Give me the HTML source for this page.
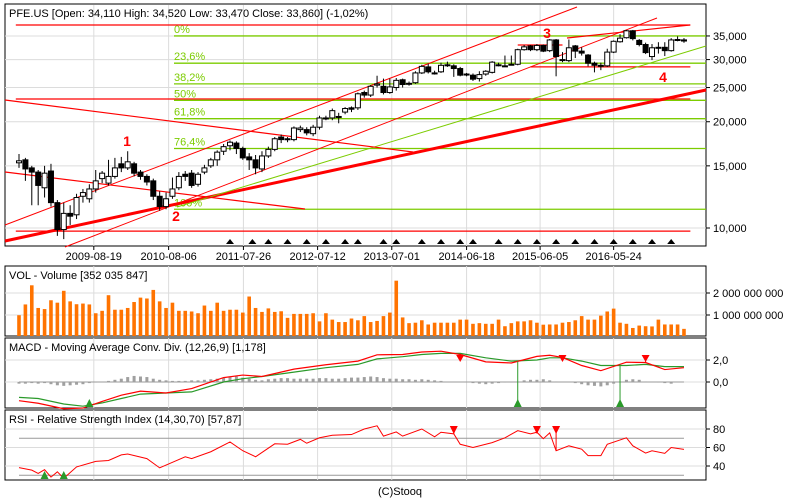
<!DOCTYPE html>
<html><head><meta charset="utf-8"><style>
html,body{margin:0;padding:0;background:#fff}
svg{display:block;font-family:"Liberation Sans",sans-serif}
</style></head><body>
<svg id="chart" width="800" height="500" viewBox="0 0 800 500" xmlns="http://www.w3.org/2000/svg">
<rect x="0" y="0" width="800" height="500" fill="#fff"/>
<g id="grid"></g>
<g id="overlays"></g>
<g id="marks"></g>
<g id="lower"></g>
<g id="labels"></g>
</svg>
<script>
const dateLabels=["2009-08-19","2010-08-06","2011-07-26","2012-07-12","2013-07-01","2014-06-18","2015-06-05","2016-05-24"];
const dateIdx=[11.7,23.4,35.1,46.7,58.3,70.0,81.5,93.0];
const priceTicks=[10,15,20,25,30,35];
const priceTickLabels=["10,000","15,000","20,000","25,000","30,000","35,000"];
const opens=[15.3,15.6,14.8,14.4,13.0,14.5,11.8,9.9,11.0,10.9,12.3,12.1,12.9,13.8,13.4,14.0,15.2,14.8,15.2,14.4,14.0,13.6,12.3,11.5,12.3,13.0,14.2,14.3,13.3,14.4,15.0,15.6,16.5,17.1,17.4,16.8,15.9,15.6,14.7,16.0,16.7,18.1,17.9,17.8,19.0,19.0,18.5,19.3,20.5,20.5,20.7,21.3,21.9,21.9,24.2,23.8,25.4,25.2,24.2,25.0,26.3,25.7,25.8,27.5,28.6,27.5,27.7,29.0,28.8,28.3,27.3,27.1,26.5,27.3,27.6,29.0,28.8,29.1,29.1,32.0,32.8,32.0,32.9,31.8,34.1,30.0,29.8,32.8,31.7,30.9,29.3,28.9,28.8,31.5,33.7,34.6,36.2,34.0,33.1,30.6,32.5,32.5,31.8,34.2,34.11];
const closes=[15.5,14.7,14.4,13.2,14.3,11.8,9.9,11.0,10.8,12.2,12.6,12.9,13.6,14.3,14.0,14.8,14.8,15.4,14.3,14.0,13.5,12.3,11.5,12.1,12.9,14.0,14.0,13.2,14.2,14.8,15.6,16.4,17.0,17.5,16.8,15.8,15.6,14.8,16.0,16.7,17.9,17.8,17.9,19.2,19.2,18.6,19.3,20.5,20.5,21.5,20.7,21.8,21.7,24.0,23.8,25.2,25.6,24.2,25.1,26.2,25.5,25.7,27.5,28.7,27.7,27.5,28.9,29.0,28.3,27.1,27.3,26.4,27.2,27.8,29.5,29.0,28.8,29.1,32.0,32.6,32.0,32.9,31.7,34.1,30.6,30.0,32.4,31.7,31.3,29.3,28.9,28.9,31.5,33.8,34.5,36.2,34.4,33.1,31.4,32.4,32.5,31.8,34.1,34.2,33.86];
const highs=[16.2,15.8,15.0,14.6,15.0,15.2,12.0,11.8,11.6,12.5,12.9,13.3,14.6,14.5,15.6,15.8,15.9,16.5,15.4,14.6,14.2,13.8,12.7,12.6,13.9,14.4,14.5,14.6,14.4,15.1,15.8,16.6,17.3,17.7,17.6,17.0,16.3,16.1,16.5,17.0,18.1,18.4,18.1,19.4,19.5,19.3,19.6,20.8,20.8,21.8,21.2,22.0,22.1,24.2,24.5,25.4,27.0,26.5,26.5,26.6,26.5,26.0,27.8,29.0,29.2,27.9,29.4,29.6,29.1,28.6,27.5,27.4,27.8,28.0,29.7,29.4,30.8,30.8,32.2,33.0,33.0,33.2,33.1,34.3,34.3,31.5,34.2,33.0,32.5,31.1,29.6,29.4,32.2,34.0,35.4,36.4,36.4,34.3,33.5,33.2,33.6,33.6,34.5,34.9,34.52];
const lows=[14.8,13.6,11.6,11.6,12.2,11.5,9.5,9.3,10.2,10.6,11.8,11.8,12.6,13.4,13.2,13.8,14.4,14.6,14.0,13.7,13.2,12.0,11.2,11.3,12.1,12.8,13.6,13.0,13.1,14.2,14.8,15.0,16.1,16.6,16.2,15.6,14.6,14.2,14.4,15.8,16.5,17.4,17.5,17.6,18.7,18.3,18.2,19.0,20.2,20.2,19.8,21.0,21.3,21.6,23.4,23.5,25.0,23.9,24.0,24.5,25.0,25.3,25.6,27.3,27.4,27.2,27.5,28.6,26.8,26.9,26.9,26.1,26.0,27.0,27.4,28.7,28.6,28.9,28.9,31.8,31.7,31.7,31.5,31.5,26.9,29.5,29.5,30.3,30.8,28.7,27.6,28.0,28.6,31.3,33.5,34.4,34.0,32.7,31.1,29.9,31.2,30.7,31.6,33.8,33.47];
const volumes=[0.99,1.48,2.35,1.32,1.27,1.67,1.56,2.1,1.62,1.49,1.52,1.48,1.08,1.19,1.9,1.24,1.24,1.32,1.59,1.79,1.75,2.14,1.62,1.32,1.56,1.19,1.19,1.16,1.08,1.43,1.19,1.56,1.19,1.24,1.24,1.11,1.84,1.32,1.14,1.3,1.14,1.17,0.87,1.05,1.05,1.05,1.08,0.71,1.08,0.79,0.68,0.68,0.84,0.76,0.95,0.68,0.73,0.95,1.11,2.56,0.89,0.63,0.65,0.76,0.57,0.65,0.65,0.65,0.65,0.79,0.79,0.6,0.63,0.6,0.6,0.79,0.49,0.63,0.71,0.71,0.76,0.65,0.56,0.57,0.57,0.65,0.68,0.76,0.95,0.79,0.79,0.97,1.16,1.29,0.65,0.6,0.41,0.52,0.49,0.48,0.79,0.57,0.57,0.57,0.37];
const macdIdx=[0,3,7,10,13,16,19,23,27,32,35,38,43,48,53,56,60,63,66,69,73,77,81,83,85,88,91,95,98,101,104];
const macdLine=[-1.7,-1.93,-2.43,-2.37,-1.77,-1.2,-0.83,-1.0,-0.6,0.4,0.63,0.5,1.17,1.57,1.9,2.47,2.5,2.73,2.8,2.5,1.83,1.73,2.33,2.43,2.23,1.5,1.03,1.8,1.77,1.13,1.3];
const macdSignal=[-1.4,-1.5,-2.0,-2.2,-1.9,-1.5,-1.1,-1.0,-0.9,0.0,0.3,0.5,0.9,1.3,1.6,2.1,2.3,2.5,2.6,2.6,2.2,1.9,2.0,2.2,2.2,1.9,1.5,1.5,1.6,1.4,1.4];
const macdHist=[-0.15,-0.15,-0.1,-0.15,-0.1,-0.2,-0.3,-0.35,-0.3,-0.25,-0.2,-0.1,-0.05,0,0.1,0.2,0.3,0.45,0.55,0.5,0.45,0.3,0.2,0.15,0.1,0.1,0.1,0.15,0.15,0.2,0.25,0.3,0.4,0.45,0.5,0.4,0.3,0.2,0.15,0.25,0.3,0.35,0.35,0.3,0.3,0.3,0.3,0.35,0.35,0.3,0.3,0.35,0.4,0.4,0.45,0.5,0.45,0.35,0.3,0.3,0.25,0.25,0.2,0.25,0.2,0.15,0.1,0,0,0,0,-0.1,-0.15,-0.2,-0.15,-0.1,-0.05,-0.05,0.05,0.15,0.2,0.2,0.25,0.15,0.05,0,0,-0.1,-0.2,-0.3,-0.35,-0.4,-0.3,-0.15,0,0.2,0.25,0.2,0.05,0,-0.05,-0.1,-0.15,0,0];
const rsiIdx=[0,2,3,4,5,6,7,9,12,14,16,17,20,22,24,26,27,30,33,35,37,40,42,44,45,47,49,52,54,56,57,59,60,63,65,66,68,69,71,74,76,78,80,81,82,83,84,86,88,89,91,92,95,96,98,99,101,102,104];
const rsiVals=[38.2,35.5,32,36,28,33.7,26.7,39,45,46,52,53,48,38,44,50,48,55.4,66,56.5,50,64,63.5,68.8,64.6,70.5,73.3,74,80,83.5,72.3,76.8,72.3,80,71.6,76.5,74.7,63.5,60,65.3,70.5,78.2,74.7,76.5,69.5,75.8,56.5,61.8,58.2,51.2,51.2,63.5,70.5,61.8,54,56.5,53.7,60,58];
const dividendIdx=[33,36.5,39,42,45,48,51,53,57,59,63,66,69,71,75,78,81,84,87,90,93,96,99,102];
const macdBuyIdx=[11,78,94], macdSellIdx=[69,85,98];
const rsiBuyIdx=[4,7], rsiSellIdx=[68,81,84];
const fibLevels=[0,23.6,38.2,50,61.8,76.4,100];
const fibPrices=[35.0,29.3,25.6,23.0,20.4,16.8,11.3];

const NS="http://www.w3.org/2000/svg";
const L=5,R=706;
const xOf=i=>19+6.394*i;
const yP=p=>228-153.3*Math.log(p/10);
const yV=v=>337-22*v;
const yM=v=>382-11*v;
const yR=v=>429+(80-v)*0.925;
function mk(parent,tag,attrs,text){const e=document.createElementNS(NS,tag);for(const k in attrs)e.setAttribute(k,attrs[k]);if(text!==undefined)e.textContent=text;document.getElementById(parent).appendChild(e);return e;}

const panels=[[4,246,"price-panel"],[266,336,"volume-panel"],[338,408,"macd-panel"],[410,480,"rsi-panel"]];
for(const p of panels){
 const r=mk("grid","rect",{x:L,y:p[0],width:R-L,height:p[1]-p[0],fill:"#fff",stroke:"#000","stroke-width":1});
 
 
}
for(let k=0;k<dateIdx.length;k++){
 const x=xOf(dateIdx[k]);
 for(const p of [[5,246],[266,336],[338,408],[410,480]]){
  const g=mk("grid","line",{x1:x,x2:x,y1:p[0],y2:p[1],stroke:"#dcdcdc"});
  
  
 }
 const t=mk("labels","text",{x:x,y:260,"font-size":11,"text-anchor":"middle",fill:"#000"},dateLabels[k]);
 
 
 const tk=mk("labels","line",{x1:x,x2:x,y1:246,y2:250,stroke:"#000"});
 
 
}
for(let k=0;k<priceTicks.length;k++){
 const y=yP(priceTicks[k]);
 const g=mk("grid","line",{x1:L,x2:R,y1:y,y2:y,stroke:"#dcdcdc"});
 
 
 const tk=mk("labels","line",{x1:R,x2:R+4,y1:y,y2:y,stroke:"#000"});
 
 
 const t=mk("labels","text",{x:713,y:y+4,"font-size":11,fill:"#000"},priceTickLabels[k]);
 
 
}
const hlines=[[37.6,-0.5,105,"#f00",1.2],[23.2,-0.5,105,"#f00",1.2],[9.8,-0.5,105,"#f00",1.2],[28.6,80,105,"#f00",1.2],[33.0,78,85,"#f00",1.2]];
for(const h of hlines){
 const l=mk("overlays","line",{x1:xOf(h[1]),x2:Math.min(R,xOf(h[2])),y1:yP(h[0]),y2:yP(h[0]),stroke:h[3],"stroke-width":h[4]});
 
 
}
for(let k=0;k<fibLevels.length;k++){
 const y=yP(fibPrices[k]);
 const l=mk("overlays","line",{x1:174,x2:R,y1:y,y2:y,stroke:"#7ccc00","stroke-width":1.3});
 
 
 const t=mk("overlays","text",{x:174,y:y-3,"font-size":11,fill:"#7ccc00"},String(fibLevels[k]).replace('.',',')+"%");
 
 
}
const tlines=[[5,225,577,7,"#f00",1],[65,247,657,18,"#f00",1],[5,241,706,90,"#f00",3],[177,207,706,46,"#7ccc00",1],[5,100,413,152,"#f00",1.2],[5,172,305,209,"#f00",1.2],[567,38,690,25,"#f00",1.2]];
for(const t of tlines){
 const l=mk("overlays","line",{x1:t[0],y1:t[1],x2:t[2],y2:t[3],stroke:t[4],"stroke-width":t[5]});
 
 
}
const nums=[["1",127,146],["2",176,221],["3",547,38],["4",663,82]];
for(const n of nums){
 const t=mk("overlays","text",{x:n[1],y:n[2],"font-size":14,"font-weight":"bold",fill:"#f00","text-anchor":"middle"},n[0]);
 
 
}
for(let i=0;i<closes.length;i++){
 const x=xOf(i),o=opens[i],c=closes[i];
 const w=mk("marks","line",{x1:x,x2:x,y1:yP(highs[i]),y2:yP(lows[i]),stroke:"#000"});
 
 
 const top=yP(Math.max(o,c)),bot=yP(Math.min(o,c));
 const b=mk("marks","rect",{x:x-2.5,y:top,width:5,height:Math.max(1,bot-top),fill:c>=o?"#fff":"#000",stroke:"#000","stroke-width":1});
 
 
}
for(const d of dividendIdx){
 const x=xOf(d);
 const p=mk("marks","polygon",{points:`${x-4},244 ${x+4},244 ${x},239`,fill:"#000"});
 
 
}
const title=mk("labels","text",{x:9,y:17,"font-size":11,fill:"#000"},"PFE.US [Open: 34,110  High: 34,520  Low: 33,470  Close: 33,860] (-1,02%)");


[[2,"2 000 000 000"],[1,"1 000 000 000"]].forEach(v=>{
 const g=mk("lower","line",{x1:L,x2:R,y1:yV(v[0]),y2:yV(v[0]),stroke:"#dcdcdc"});
 
 
 const tk=mk("lower","line",{x1:R,x2:R+4,y1:yV(v[0]),y2:yV(v[0]),stroke:"#000"});
 
 
 const t=mk("lower","text",{x:713,y:yV(v[0])+4,"font-size":11,fill:"#000"},v[1]);
 
 
});
for(let i=0;i<volumes.length;i++){
 const r=mk("lower","rect",{x:xOf(i)-1.8,y:yV(volumes[i]),width:3.6,height:336-yV(volumes[i]),fill:"#ff7300"});
 
 
}
const vt=mk("lower","text",{x:9,y:279,"font-size":11,fill:"#000"},"VOL - Volume [352 035 847]");


[[2,"2,0"],[0,"0,0"]].forEach(v=>{
 const g=mk("lower","line",{x1:L,x2:R,y1:yM(v[0]),y2:yM(v[0]),stroke:"#dcdcdc"});
 
 
 const tk=mk("lower","line",{x1:R,x2:R+4,y1:yM(v[0]),y2:yM(v[0]),stroke:"#000"});
 
 
 const t=mk("lower","text",{x:713,y:yM(v[0])+4,"font-size":11,fill:"#000"},v[1]);
 
 
});
const z=mk("lower","line",{x1:xOf(0),x2:xOf(104),y1:yM(0),y2:yM(0),stroke:"#999"});


for(let i=0;i<macdHist.length;i++){
 const h=macdHist[i];
 const r=mk("lower","rect",{x:xOf(i)-1.5,y:Math.min(yM(0),yM(h)),width:3,height:Math.abs(yM(h)-yM(0)),fill:"#a0a0a0"});
 
 
}
const sigPath=mk("lower","polyline",{points:macdIdx.map((d,k)=>xOf(d)+","+yM(macdSignal[k])).join(" "),fill:"none",stroke:"#2a9a2a","stroke-width":1.2});


const macdPath=mk("lower","polyline",{points:macdIdx.map((d,k)=>xOf(d)+","+yM(macdLine[k])).join(" "),fill:"none",stroke:"#f00","stroke-width":1.2});


function interp(idxArr,valArr,i){for(let k=0;k<idxArr.length-1;k++){if(i>=idxArr[k]&&i<=idxArr[k+1]){const t=(i-idxArr[k])/(idxArr[k+1]-idxArr[k]);return valArr[k]+t*(valArr[k+1]-valArr[k]);}}return valArr[valArr.length-1];}
for(const d of macdBuyIdx){
 const x=xOf(d),yl=yM(interp(macdIdx,macdLine,d));
 const s=mk("lower","line",{x1:x,x2:x,y1:yl,y2:406,stroke:"#2a9a2a"});
 
 
 const p=mk("lower","polygon",{points:`${x-4},407 ${x+4},407 ${x},399`,fill:"#2a9a2a"});
 
 
}
for(const d of macdSellIdx){
 const x=xOf(d),yl=yM(interp(macdIdx,macdLine,d));
 const s=mk("lower","line",{x1:x,x2:x,y1:355,y2:yl,stroke:"#f00"});
 
 
 const p=mk("lower","polygon",{points:`${x-4},355 ${x+4},355 ${x},362`,fill:"#f00"});
 
 
}
const mt=mk("lower","text",{x:9,y:351,"font-size":11,fill:"#000"},"MACD - Moving Average Conv. Div. (12,26,9) [1,178]");


[[80,"80"],[60,"60"],[40,"40"]].forEach(v=>{
 const g=mk("lower","line",{x1:L,x2:R,y1:yR(v[0]),y2:yR(v[0]),stroke:"#dcdcdc"});
 
 
 const tk=mk("lower","line",{x1:R,x2:R+4,y1:yR(v[0]),y2:yR(v[0]),stroke:"#000"});
 
 
 const t=mk("lower","text",{x:713,y:yR(v[0])+4,"font-size":11,fill:"#000"},v[1]);
 
 
});
[70,30].forEach(v=>{
 const g=mk("lower","line",{x1:xOf(0),x2:xOf(104),y1:yR(v),y2:yR(v),stroke:"#999"});
 
 
});
const rsiPath=mk("lower","polyline",{points:rsiIdx.map((d,k)=>xOf(d)+","+yR(rsiVals[k])).join(" "),fill:"none",stroke:"#f00","stroke-width":1});


for(const d of rsiBuyIdx){
 const x=xOf(d);
 const p=mk("lower","polygon",{points:`${x-4},479 ${x+4},479 ${x},471`,fill:"#2a9a2a"});
 
 
}
for(const d of rsiSellIdx){
 const x=xOf(d),yl=yR(interp(rsiIdx,rsiVals,d));
 const s=mk("lower","line",{x1:x,x2:x,y1:426,y2:yl,stroke:"#f00"});
 
 
 const p=mk("lower","polygon",{points:`${x-4},426 ${x+4},426 ${x},434`,fill:"#f00"});
 
 
}
const rt=mk("lower","text",{x:9,y:423,"font-size":11,fill:"#000"},"RSI - Relative Strength Index (14,30,70) [57,87]");


const cp=mk("labels","text",{x:400,y:495,"font-size":11,"text-anchor":"middle",fill:"#000"},"(C)Stooq");


</script>
</body></html>
